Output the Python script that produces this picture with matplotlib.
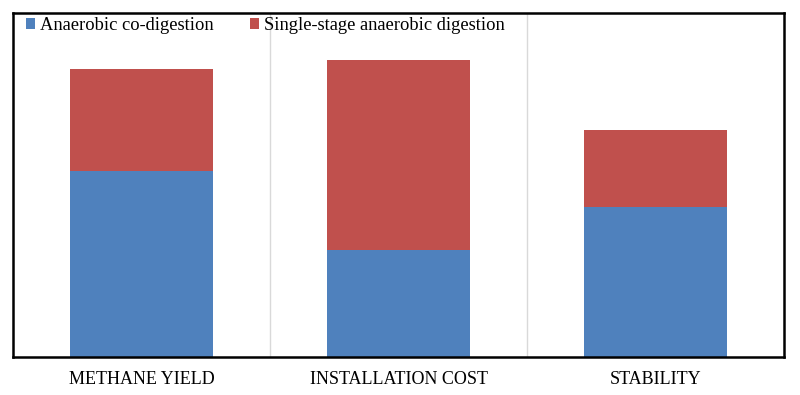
import numpy as np
import matplotlib.pyplot as plt

plt.rcParams['font.family'] = ['Liberation Serif', 'DejaVu Serif']

categories = ['METHANE YIELD', 'INSTALLATION COST', 'STABILITY']
co_digestion = [54.0, 31.2, 43.7]
single_stage = [29.7, 55.1, 22.4]
series_names = ['Anaerobic co-digestion', 'Single-stage anaerobic digestion']

fig = plt.figure(figsize=(8, 3.95), dpi=100)
ax = fig.add_axes([13/800, 1 - 357/395, 771/800, 344/395])

x = np.arange(len(categories))
ax.bar(x, co_digestion, width=0.556, color='#4F81BD', label=series_names[0], zorder=2)
ax.bar(x, single_stage, width=0.556, bottom=co_digestion, color='#C0504D',
       label=series_names[1], zorder=2)

ax.set_xlim(-0.5, 2.5)
ax.set_ylim(0, 100)
ax.set_yticks([])
ax.set_xticks(x)
ax.set_xticklabels(categories, fontsize=13)
ax.tick_params(axis='x', length=0, pad=10)
for b in [0.5, 1.5]:
    ax.axvline(b, color='#D9D9D9', lw=1, zorder=1)
for s in ax.spines.values():
    s.set_linewidth(1.8)
    s.set_color('black')

ax.legend(loc='upper left', ncol=2, frameon=False, fontsize=13.3,
          handlelength=0.49, handleheight=0.49, handletextpad=0.27,
          columnspacing=2.0, borderaxespad=0.0, bbox_to_anchor=(0.007, 1.01))

fig.savefig('out.png', dpi=100)
